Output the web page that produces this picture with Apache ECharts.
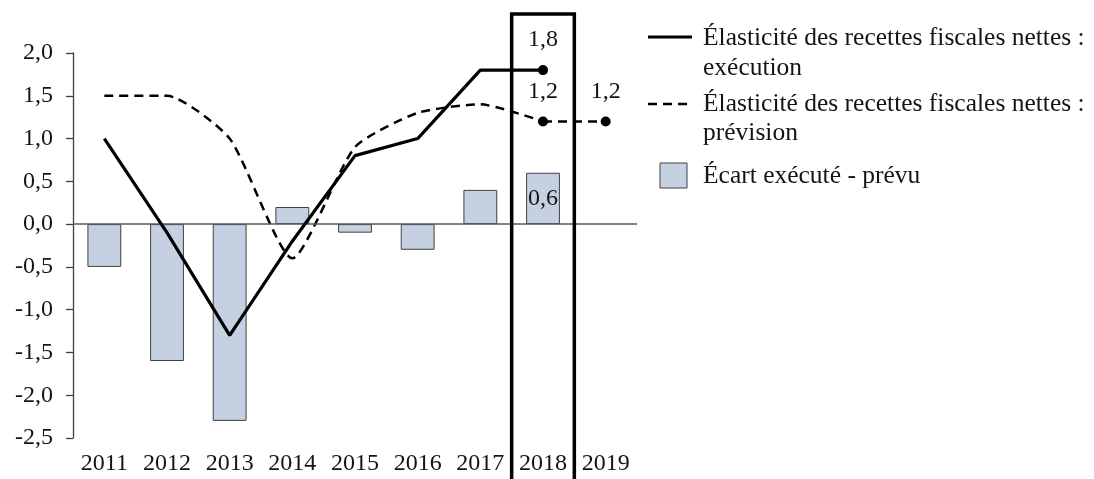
<!DOCTYPE html>
<html>
<head>
<meta charset="utf-8">
<script src="https://cdn.jsdelivr.net/npm/echarts@6/dist/echarts.min.js"></script>
<style>
  html, body { margin: 0; padding: 0; background: #ffffff; }
  #chart { width: 1094px; height: 479px; }
</style>
</head>
<body>
<div id="chart"></div>
<script>
// ---- data ----
const years = ['2011', '2012', '2013', '2014', '2015', '2016', '2017', '2018', '2019'];
const execution = [1.0, -0.1, -1.3, -0.2, 0.8, 1.0, 1.8, 1.8, null];
const prevision = [1.5, 1.5, 1.0, -0.4, 0.9, 1.3, 1.4, 1.2, 1.2];
const ecart = [-0.5, -1.6, -2.3, 0.2, -0.1, -0.3, 0.4, 0.6, null];
const legendNames = [
  ['Élasticité des recettes fiscales nettes :', 'exécution'],
  ['Élasticité des recettes fiscales nettes :', 'prévision'],
  ['Écart exécuté - prévu']
];
const highlightYear = '2018';
const yTicks = { min: -2.5, max: 2.0, interval: 0.5 };

// ---- helpers ----
const FONT = '"Liberation Serif", "DejaVu Serif", serif';
const FS = 24;
const LFS = 25.5;
const TXT = '#141414';
const fmt = v => Number(v).toFixed(1).replace('.', ',');
const hi = years.indexOf(highlightYear);

const execData = execution.map((v, i) => i === hi ? { value: v, label: { show: true } } : v);
const prevMain = prevision.map((v, i) => i <= hi ? v : null);
const prevTail = prevision.map((v, i) => i >= hi ? { value: v, label: { show: true } } : null);
const barData = ecart.map((v, i) => i === hi ? { value: v, label: { show: true } } : v);

const chart = echarts.init(document.getElementById('chart'), null, { renderer: 'canvas' });

const legendX = 703;
const lfont = LFS + 'px ' + FONT;
const option = {
  animation: false,
  backgroundColor: '#ffffff',
  textStyle: { fontFamily: FONT, color: TXT },
  grid: { left: 73, right: 457, top: 53, bottom: 41, containLabel: false },
  xAxis: {
    type: 'category',
    data: years,
    boundaryGap: true,
    axisLine: { show: false, onZero: false },
    axisTick: { show: false },
    splitLine: { show: false },
    axisLabel: { color: TXT, fontFamily: FONT, fontSize: FS, margin: 14 }
  },
  yAxis: {
    type: 'value',
    min: yTicks.min, max: yTicks.max, interval: yTicks.interval,
    axisLine: { show: true, lineStyle: { color: '#404040', width: 1.3 } },
    axisTick: { show: true, length: 7, lineStyle: { color: '#404040', width: 1.3 } },
    splitLine: { show: false },
    axisLabel: { color: TXT, fontFamily: FONT, fontSize: FS, margin: 20, formatter: v => fmt(v) }
  },
  series: [
    {
      name: 'Écart exécuté - prévu',
      type: 'bar',
      data: barData,
      barWidth: '54%',
      z: 1,
      itemStyle: { color: '#c5d0e2', borderColor: '#404040', borderWidth: 1 },
      label: { show: false, position: 'inside', color: TXT, fontFamily: FONT, fontSize: FS, formatter: p => fmt(p.value) },
      markLine: {
        silent: true, symbol: 'none', label: { show: false },
        lineStyle: { color: '#595959', width: 1.5, type: 'solid' },
        data: [{ yAxis: 0 }]
      }
    },
    {
      name: 'Élasticité des recettes fiscales nettes : prévision',
      type: 'line',
      data: prevMain,
      smooth: 0.2,
      symbol: 'none',
      z: 3,
      lineStyle: { color: '#000', width: 2.5, type: [9, 6] }
    },
    {
      name: 'prevision-tail',
      type: 'line',
      data: prevTail,
      smooth: false,
      symbol: 'circle',
      symbolSize: 10,
      z: 4,
      itemStyle: { color: '#000' },
      lineStyle: { color: '#000', width: 2.5, type: [9, 6] },
      label: { show: false, position: 'top', distance: 13, color: TXT, fontFamily: FONT, fontSize: FS, formatter: p => fmt(p.value) }
    },
    {
      name: 'Élasticité des recettes fiscales nettes : exécution',
      type: 'line',
      data: execData,
      smooth: false,
      symbol: 'circle',
      symbolSize: (v, p) => p.dataIndex === hi ? 10 : 0,
      z: 5,
      itemStyle: { color: '#000' },
      lineStyle: { color: '#000', width: 3.2 },
      label: { show: false, position: 'top', distance: 13, color: TXT, fontFamily: FONT, fontSize: FS, formatter: p => fmt(p.value) }
    }
  ],
  graphic: [
    { id: 'lg1', type: 'line', shape: { x1: 648, y1: 37, x2: 692, y2: 37 }, style: { stroke: '#000', lineWidth: 3.2 } },
    { id: 'lt1a', type: 'text', x: legendX, y: 38, style: { text: legendNames[0][0], fill: TXT, font: lfont, verticalAlign: 'middle' } },
    { id: 'lt1b', type: 'text', x: legendX, y: 68, style: { text: legendNames[0][1], fill: TXT, font: lfont, verticalAlign: 'middle' } },
    { id: 'lg2', type: 'line', shape: { x1: 648, y1: 104, x2: 692, y2: 104 }, style: { stroke: '#000', lineWidth: 2.5, lineDash: [9, 6] } },
    { id: 'lt2a', type: 'text', x: legendX, y: 104, style: { text: legendNames[1][0], fill: TXT, font: lfont, verticalAlign: 'middle' } },
    { id: 'lt2b', type: 'text', x: legendX, y: 133, style: { text: legendNames[1][1], fill: TXT, font: lfont, verticalAlign: 'middle' } },
    { id: 'lg3', type: 'rect', shape: { x: 660, y: 163, width: 27, height: 25 }, style: { fill: '#c5d0e2', stroke: '#404040', lineWidth: 1 } },
    { id: 'lt3a', type: 'text', x: legendX, y: 176, style: { text: legendNames[2][0], fill: TXT, font: lfont, verticalAlign: 'middle' } }
  ]
};

chart.setOption(option);

// highlight box around the highlighted year, derived from the category axis scale
const cx = chart.convertToPixel({ xAxisIndex: 0 }, highlightYear);
const cxNext = chart.convertToPixel({ xAxisIndex: 0 }, years[hi + 1]);
const bw = cxNext - cx;
chart.setOption({
  graphic: [
    { id: 'hlbox', type: 'rect', z: 100, shape: { x: cx - bw / 2, y: 14, width: bw, height: 520 }, style: { fill: 'none', stroke: '#000', lineWidth: 3.5 } }
  ]
});
</script>
</body>
</html>
